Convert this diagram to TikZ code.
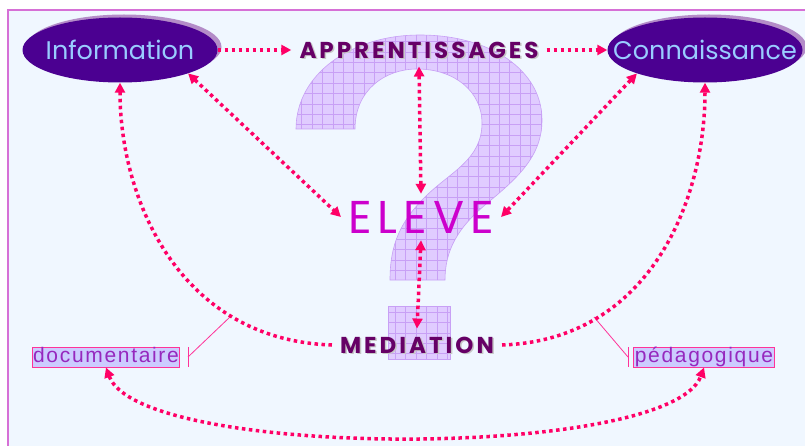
\documentclass[tikz,border=0pt]{standalone}
\usepackage{fontspec}
\setmainfont{Poppins}
\newfontfamily\tagfont{Liberation Sans}
\usetikzlibrary{positioning, arrows.meta, shapes.geometric, shadows}
\definecolor{pagebg}{RGB}{240,247,255}
\definecolor{framecol}{RGB}{214,112,214}
\definecolor{conceptfill}{RGB}{75,0,145}
\definecolor{conceptshade}{RGB}{180,140,200}
\definecolor{concepttext}{RGB}{153,204,255}
\definecolor{keytext}{RGB}{102,0,102}
\definecolor{elevecol}{RGB}{204,0,204}
\definecolor{linkcol}{RGB}{255,0,102}
\definecolor{tagfill}{RGB}{204,204,255}
\definecolor{tagline}{RGB}{255,51,153}
\definecolor{tagtext}{RGB}{150,40,190}
\definecolor{qfill}{RGB}{224,204,255}
\definecolor{qgrid}{RGB}{200,160,245}
\tikzset{
  % --- ovals and key words ---
  concept/.style={ellipse, fill=conceptfill, text=concepttext,
    minimum width=195pt, minimum height=65pt, inner xsep=-26pt, inner ysep=0pt,
    font=\fontsize{25.5}{25.5}\selectfont,
    general shadow={fill=conceptshade, shadow xshift=4pt, shadow yshift=3pt}},
  keyword/.style={text=keytext, inner sep=8pt,
    font=\fontsize{23}{23}\selectfont\bfseries\addfontfeatures{LetterSpace=13}},
  keyshade/.style={keyword, text=black!22},
  pupil/.style={text=elevecol, inner sep=7pt,
    font=\fontsize{46}{46}\selectfont\addfontfeatures{LetterSpace=13}},
  % --- small tags ---
  tagbox/.style={draw=tagline, line width=1pt, fill=tagfill, text=tagtext,
    font=\tagfont\fontsize{21}{21}\selectfont\addfontfeatures{LetterSpace=8},
    inner sep=1pt, text height=14pt, text depth=4pt},
  tagmark/.style={draw=tagline, line width=0.8pt},
  % --- dotted links ---
  link/.style={draw=linkcol, line width=3.5pt, dash pattern=on 3.5pt off 3.5pt,
    -{Triangle[length=10pt, width=10pt]}},
  twolink/.style={link, {Triangle[length=10pt, width=10pt]}-{Triangle[length=10pt, width=10pt]}},
  % --- question mark ---
  qmark/.style={fill=qfill, draw=qgrid, line width=0.6pt,
    path picture={\draw[qgrid, line width=0.6pt, step=10.4pt]
      (path picture bounding box.south west) grid (path picture bounding box.north east);}},
}

\begin{document}
\begin{tikzpicture}[x=1pt, y=-1pt]
  \useasboundingbox (0,0) rectangle (805,446);
  % page
  \fill[pagebg] (8,10) rectangle (805,446);
  \draw[framecol, line width=1.5pt] (8,446) -- (8,10) -- (805,10);
  % question mark
  \path[qmark] (296,129) -- (355,129)
    .. controls (355,90) and (385,69) .. (417,69)
    .. controls (455,69) and (482,92) .. (482,123)
    .. controls (482,160) and (450,172) .. (425,197)
    .. controls (400,222) and (390,245) .. (390,280)
    -- (445,280)
    .. controls (445,250) and (458,228) .. (485,205)
    .. controls (515,180) and (542,158) .. (542,120)
    .. controls (542,70) and (490,35) .. (420,35)
    .. controls (350,35) and (296,75) .. (296,129) -- cycle;
  \path[qmark] (388,306) rectangle (450,359);
  % nodes
  \node[concept] (info) at (120,50)  {Information};
  \node[concept] (conn) at (705,50)  {Connaissance};
  \node[keyshade] (apprshade) at (420.5,51.5) {APPRENTISSAGES};
  \node[keyword]  (appr) at (419,50) {APPRENTISSAGES};
  \node[pupil]    (eleve) at (421,217) {ELEVE};
  \node[keyshade] (medshade) at (418.5,346.5) {MEDIATION};
  \node[keyword]  (med) at (417,345) {MEDIATION};
  \node[tagbox]   (doc) at (106,357) {documentaire};
  \node[tagbox]   (ped) at (704,357) {pédagogique};
  % tag pointers
  \coordinate (dmark) at (188,357);
  \coordinate (dhook) at (231,316);
  \coordinate (pmark) at (628,357);
  \coordinate (phook) at (594,317);
  \draw[tagmark] ([yshift=10pt]dmark) -- ([yshift=-10pt]dmark);
  \draw[tagmark] (dmark) -- (dhook);
  \draw[tagmark] ([yshift=10pt]pmark) -- ([yshift=-10pt]pmark);
  \draw[tagmark] (pmark) -- (phook);
  % links
  \draw[link] (info.east) -- (appr.west);
  \draw[link] (appr.east) -- (conn.west);
  \draw[twolink] (info.-19) -- (eleve.west);
  \draw[twolink] (conn.199) -- (eleve.east);
  \draw[twolink] (appr.south) -- (eleve.north);
  \draw[twolink] (eleve.south) -- (med.north);
  \draw[link] (med.west) .. controls (180,340) and (120,200) .. (info.south);
  \draw[link] (med.east) .. controls (650,340) and (705,200) .. (conn.south);
  \draw[twolink] (doc.south) .. controls (140,460) and (670,460) .. (ped.south);
\end{tikzpicture}
\end{document}
